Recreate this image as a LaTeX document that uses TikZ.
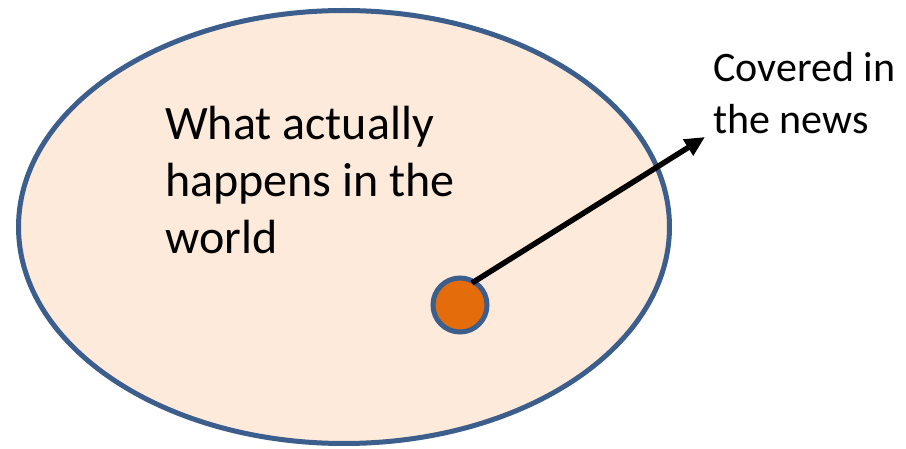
\documentclass[tikz,border=0pt]{standalone}
\usepackage{fontspec}
\setmainfont{Carlito}
\usetikzlibrary{arrows.meta, shapes.geometric}
\definecolor{rimblue}{RGB}{59,94,140}
\definecolor{worldfill}{RGB}{253,234,218}
\definecolor{newsorange}{RGB}{228,108,10}
\tikzset{
  worldshape/.style={ellipse, draw=rimblue, fill=worldfill, line width=5pt,
      minimum width=651pt, minimum height=433pt, inner sep=0pt},
  newsdot/.style={circle, draw=rimblue, fill=newsorange, line width=5pt,
      minimum size=54pt, inner sep=0pt},
  bigtext/.style={align=left, inner sep=0pt, font=\fontsize{48}{57}\selectfont},
  sidetext/.style={align=left, inner sep=0pt, font=\fontsize{42}{52}\selectfont},
  newsarrow/.style={-{Triangle[length=20pt, width=18pt]}, line width=5.5pt, black},
}

\begin{document}
\begin{tikzpicture}[x=1pt, y=-1pt]
  \useasboundingbox (0,0) rectangle (906,449);

  % === the world and the small part covered ===
  \node[worldshape] (world) at (344,227) {};
  \node[newsdot] (news) at (460,305) {};

  % === labels ===
  \node[bigtext, anchor=north west] (worldlbl) at (165,106) {What actually\\happens in the\\world};
  \node[sidetext, anchor=north west] (covered) at (713,52) {Covered in\\the news};

  % arrow
  \coordinate (tail) at (472,283);
  \coordinate (tip) at (705,137);
  \draw[newsarrow] (tail) -- (tip);
\end{tikzpicture}
\end{document}
